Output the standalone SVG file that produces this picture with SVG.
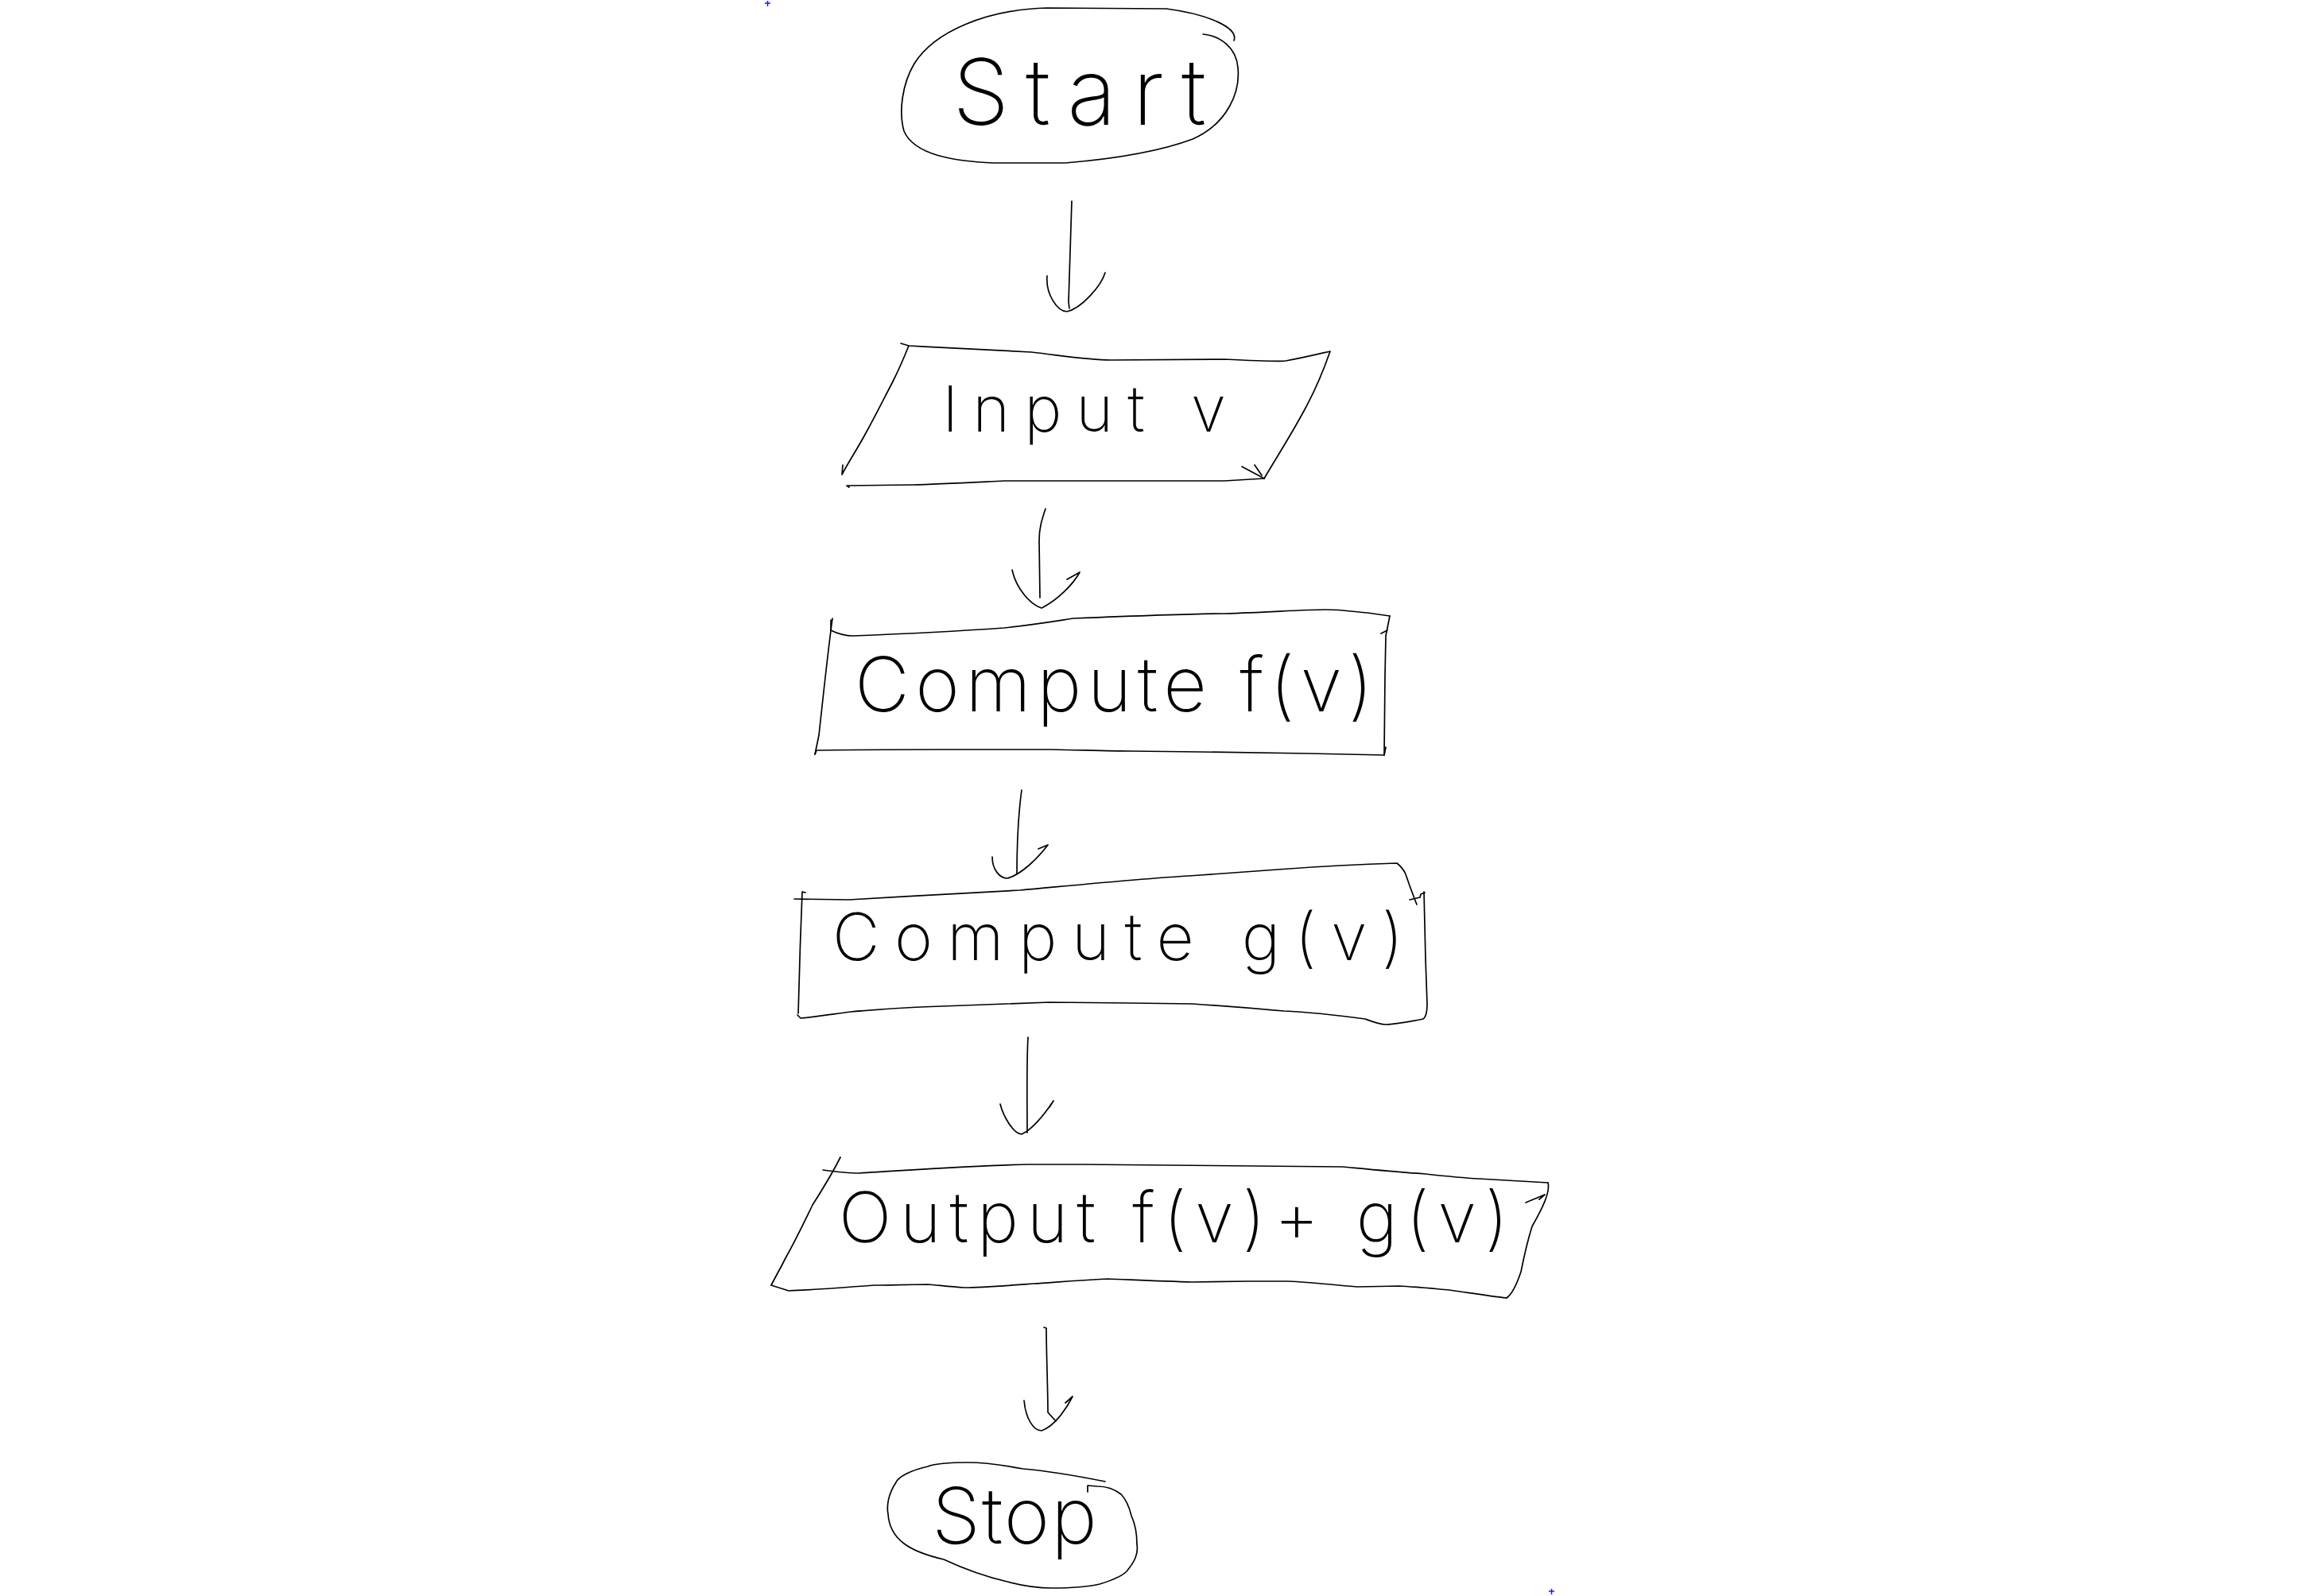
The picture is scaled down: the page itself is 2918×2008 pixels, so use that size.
<svg xmlns="http://www.w3.org/2000/svg" width="2918" height="2008" viewBox="0 0 2918 2008">
<style>
.ln{fill:none;stroke:#000;stroke-width:1.7;stroke-linecap:round;stroke-linejoin:round}
.tx{font-family:Inter,Lato,"Noto Sans","DejaVu Sans",sans-serif;font-weight:200;fill:#000}
.mk{fill:none;stroke:#1a1aff;stroke-width:1.5}
</style>
<rect width="2918" height="2008" fill="#fff"/>
<g id="node-start">
<path class="ln" d="M1552,51 C1558,35 1520,18 1467,11 L1317,10 C1240,12 1175,40 1150,80 C1135,105 1130,140 1137,165 C1150,195 1200,203 1250,205 L1340,205 C1400,200 1460,190 1500,175 C1545,155 1560,115 1557,85 C1555,60 1535,45 1513,43"/>
<text class="tx" x="1198" y="157" font-size="115" textLength="319" lengthAdjust="spacing">Start</text>
</g>
<g id="node-input">
<path class="ln" d="M1133,432 L1143,435 C1200,438 1260,441 1297,443 C1340,448 1370,453 1397,453 L1540,452 C1580,454 1610,455 1617,454 C1640,450 1660,445 1673,442 C1665,465 1655,490 1640,517 C1625,545 1612,565 1590,602"/>
<path class="ln" d="M1590,602 L1540,605 C1480,605 1420,605 1380,605 L1263,605 C1220,607 1180,609 1147,610 L1065,611 L1068,613"/>
<path class="ln" d="M1562,587 L1590,602 M1578,585 L1587,598"/>
<path class="ln" d="M1143,435 C1135,455 1128,470 1123,480 C1110,505 1100,525 1090,543 C1080,562 1068,580 1059,597 L1060,585"/>
<text class="tx" x="1185" y="543" font-size="80" textLength="357" lengthAdjust="spacing">Input v</text>
</g>
<g id="node-compute-f">
<path class="ln" d="M1045,780 L1045,793 C1055,798 1065,800 1073,800 C1150,797 1220,793 1263,790 C1300,786 1330,781 1350,778 C1450,774 1500,772 1540,772 C1600,770 1640,767 1667,767 C1690,767 1705,770 1720,771 L1748,775"/>
<path class="ln" d="M1748,775 L1743,800 L1742,850 L1741,950 M1737,797 L1745,793"/>
<path class="ln" d="M1047,778 C1040,830 1035,880 1030,925 L1025,949"/>
<path class="ln" d="M1025,949 L1027,944 L1033,944 C1080,943 1130,943 1177,943 L1323,943 C1370,944 1400,945 1423,945 L1510,946 C1580,947 1620,948 1647,948 L1741,950 L1743,940"/>
<text class="tx" x="1075" y="895" font-size="95" textLength="652" lengthAdjust="spacing">Compute f(v)</text>
</g>
<g id="node-compute-g">
<path class="ln" d="M999,1131 L1068,1132 C1140,1128 1220,1123 1283,1120 C1360,1113 1440,1105 1510,1101 C1550,1098 1580,1096 1607,1094 C1660,1090 1720,1087 1757,1086 C1762,1090 1766,1095 1768,1100 C1773,1115 1778,1128 1782,1138"/>
<path class="ln" d="M1773,1132 L1786,1129 L1787,1125 L1792,1123"/>
<path class="ln" d="M1791,1122 L1793,1207 L1795,1263 C1795,1275 1793,1280 1790,1282 C1775,1285 1755,1289 1743,1289 C1735,1289 1725,1285 1717,1282 C1680,1277 1640,1273 1615,1272 C1570,1268 1530,1265 1500,1263 L1423,1262 L1320,1261 C1260,1263 1200,1265 1157,1267 C1120,1269 1090,1271 1070,1273 C1040,1277 1020,1280 1007,1281 L1003,1277"/>
<path class="ln" d="M1013,1123 L1009,1122 C1007,1170 1005,1230 1004,1275"/>
<text class="tx" x="1047" y="1208" font-size="82" textLength="718" lengthAdjust="spacing">Compute g(v)</text>
</g>
<g id="node-output">
<path class="ln" d="M1035,1472 C1050,1474 1065,1476 1080,1476 C1150,1472 1230,1466 1295,1465 L1360,1465 C1480,1466 1600,1467 1688,1468 C1720,1471 1760,1475 1793,1477 C1820,1480 1840,1482 1860,1483 L1947,1488"/>
<path class="ln" d="M1947,1488 C1950,1500 1940,1520 1927,1543 C1920,1565 1916,1585 1913,1600 C1908,1615 1902,1628 1895,1633"/>
<path class="ln" d="M1895,1633 C1870,1630 1845,1626 1823,1623 C1800,1621 1780,1619 1760,1618 L1707,1619 C1680,1617 1650,1613 1620,1612 L1570,1612 L1500,1613 C1460,1612 1420,1610 1393,1609 C1350,1611 1320,1614 1300,1615 C1260,1618 1235,1620 1213,1620 C1195,1619 1180,1617 1167,1616 C1140,1616 1120,1617 1100,1617 C1060,1620 1020,1623 992,1624 L970,1617"/>
<path class="ln" d="M1057,1456 C1045,1480 1032,1500 1022,1516 C1008,1545 998,1565 989,1581 C982,1595 975,1607 970,1617"/>
<path class="ln" d="M1919,1513 L1943,1503 M1936,1509 L1943,1503"/>
<text class="tx" x="1055" y="1563" font-size="88" textLength="842" lengthAdjust="spacing">Output f(v)+ g(v)</text>
</g>
<g id="node-stop">
<path class="ln" d="M1390,1864 C1350,1856 1310,1850 1287,1848 C1260,1843 1235,1840 1217,1840 C1195,1840 1175,1842 1167,1845 C1145,1850 1130,1858 1127,1865 C1117,1880 1115,1895 1117,1905 C1118,1920 1125,1933 1137,1942 C1150,1952 1170,1958 1187,1962 C1215,1975 1245,1985 1267,1990 C1290,1996 1305,1998 1323,1998 C1350,1998 1370,1996 1383,1993 C1400,1988 1412,1982 1417,1977 C1427,1965 1432,1955 1430,1943 C1430,1930 1428,1918 1423,1907 C1420,1895 1415,1885 1410,1880 C1400,1872 1390,1870 1380,1870 L1368,1869 L1368,1877"/>
<text class="tx" x="1172" y="1942" font-size="98" textLength="208" lengthAdjust="spacing">Stop</text>
</g>
<g id="connectors">
<path class="ln" d="M1348,253 L1344,380 L1345,388 M1317,347 C1315,370 1330,392 1342,392 C1360,388 1385,360 1390,343"/>
<path class="ln" d="M1315,640 C1310,655 1307,665 1307,680 L1308,752 M1273,717 C1278,740 1295,760 1310,765 C1330,755 1350,735 1358,720 M1342,729 L1358,720"/>
<path class="ln" d="M1285,994 C1280,1030 1279,1070 1279,1100 M1248,1078 C1248,1095 1258,1105 1267,1105 C1285,1100 1305,1080 1318,1063 M1306,1068 L1318,1063"/>
<path class="ln" d="M1293,1305 C1291,1340 1292,1390 1292,1425 M1258,1389 C1262,1405 1275,1427 1285,1427 C1300,1420 1315,1400 1325,1385 M1320,1393 L1325,1385"/>
<path class="ln" d="M1313,1670 L1316,1671 C1316,1700 1318,1750 1318,1777 L1328,1788 M1288,1762 C1290,1785 1300,1800 1310,1800 C1325,1795 1340,1775 1349,1757 M1340,1765 L1349,1757"/>
</g>
<path class="mk" d="M962,4 h7 M965.5,1 v7 M1948,2002 h7 M1951.5,1999 v7"/>
</svg>
